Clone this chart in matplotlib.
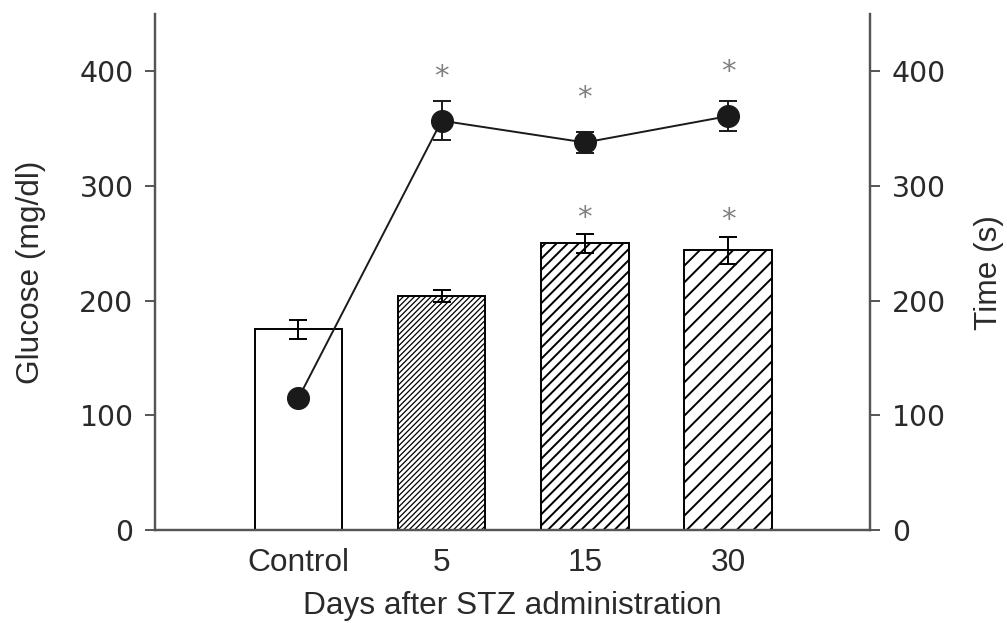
import numpy as np
import matplotlib
matplotlib.use("Agg")
import matplotlib.pyplot as plt

# data
days = ["Control", "5", "15", "30"]
time_s = [175, 204, 250, 244]          # bars, right axis
time_err = [8, 5, 8, 12]
glucose = [115, 357, 338, 361]          # line, left axis
glucose_err = [4, 17, 9, 13]
bar_sig = [False, False, True, True]
line_sig = [False, True, True, True]
hatches = ["", "//////", "///", "//"]
hatch_lw = [1.0, 0.9, 1.4, 1.4]

plt.rcParams["font.family"] = ["Liberation Sans", "DejaVu Sans"]
plt.rcParams["hatch.linewidth"] = 1.4

DPI = 100
fig = plt.figure(figsize=(1007 / DPI, 623 / DPI), dpi=DPI)
ax = fig.add_axes([0.154, 0.149, 0.71, 0.8285])
ax2 = ax.twinx()

x = np.arange(len(days))
spine_col = "#555555"
text_col = "#2a2a2a"

# bars on the right (time) axis
bars = ax2.bar(x, time_s, width=0.61, color="white", edgecolor="black",
               linewidth=1.4, hatch=hatches, zorder=2)
for b, lw in zip(bars, hatch_lw):
    if hasattr(b, "set_hatch_linewidth"):
        b.set_hatch_linewidth(lw)
ax2.errorbar(x, time_s, yerr=time_err, fmt="none", ecolor="black",
             elinewidth=1.4, capsize=6.5, capthick=1.4, zorder=3)

# glucose line on the left axis, drawn above the bars
ax.set_zorder(ax2.get_zorder() + 1)
ax.patch.set_visible(False)
ax.errorbar(x, glucose, yerr=glucose_err, fmt="-o", color="#1a1a1a",
            markersize=15.6, linewidth=1.4, elinewidth=1.4, capsize=6.5,
            capthick=1.4, zorder=4)

# significance stars
for i in range(len(days)):
    if line_sig[i]:
        ax.annotate("*", (x[i], glucose[i]), xytext=(0, 26), textcoords="offset points",
                    ha="center", va="baseline", fontsize=21, color="#808080",
                    family="DejaVu Sans")
    if bar_sig[i]:
        ax2.annotate("*", (x[i], time_s[i] + time_err[i]), xytext=(0, 6),
                     textcoords="offset points", ha="center", va="baseline",
                     fontsize=21, color="#808080", family="DejaVu Sans")

for a in (ax, ax2):
    a.set_ylim(0, 450)
    a.set_yticks([0, 100, 200, 300, 400])
    a.spines["top"].set_visible(False)
    for s in ("left", "right", "bottom"):
        a.spines[s].set_color(spine_col)
        a.spines[s].set_linewidth(1.6)
    a.tick_params(axis="y", length=7.2, width=1.4, color=spine_col, pad=8.4,
                  labelsize=20.4, labelcolor=text_col)
    for lab in a.get_yticklabels():
        lab.set_family("DejaVu Sans")

ax.set_xlim(-1.0, 3.99)
ax.set_xticks(x)
ax.set_xticklabels(days)
ax.tick_params(axis="x", length=0, pad=13, labelsize=22.8, labelcolor=text_col)
ax2.tick_params(axis="x", length=0)

ax.set_xlabel("Days after STZ administration", fontsize=22.8, color=text_col, labelpad=9)
ax.set_ylabel("Glucose (mg/dl)", fontsize=22.8, color=text_col, labelpad=24)
ax2.set_ylabel("Time (s)", fontsize=22.8, color=text_col, labelpad=20)

fig.savefig("out.png", dpi=DPI, facecolor="white")
